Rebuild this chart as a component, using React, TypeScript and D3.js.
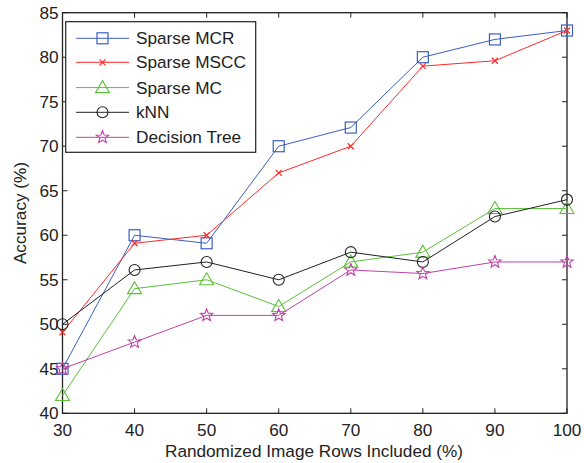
import * as d3 from "d3";
import React, {useEffect, useRef} from "react";

const xValues = [30, 40, 50, 60, 70, 80, 90, 100];
const sparseMCR = [45, 60, 59.1, 70, 72.1, 80, 82, 83];
const sparseMSCC = [49.1, 59.1, 60, 67, 70, 79, 79.6, 83];
const sparseMC = [42, 54, 55, 52, 57, 58.1, 63, 63];
const knn = [50, 56.1, 57, 55, 58.1, 57, 62.1, 64];
const decisionTree = [45, 48, 51, 51, 56.1, 55.7, 57, 57];
const xTicks = [30, 40, 50, 60, 70, 80, 90, 100];
const yTicks = [40, 45, 50, 55, 60, 65, 70, 75, 80, 85];

const seriesList = [
  {name: "Sparse MCR", values: sparseMCR, color: "#3a5fc0", marker: "square"},
  {name: "Sparse MSCC", values: sparseMSCC, color: "#ff2a2a", marker: "x"},
  {name: "Sparse MC", values: sparseMC, color: "#5cbf3a", marker: "triangle"},
  {name: "kNN", values: knn, color: "#222222", marker: "circle"},
  {name: "Decision Tree", values: decisionTree, color: "#c040a8", marker: "star"},
];

const font = "'Liberation Sans', Arial, sans-serif";
const fontSize = 17.2;

function drawMarker(g: any, type: string, cx: number, cy: number, color: string) {
  if (type === "square") {
    g.append("rect").attr("x", cx - 5.5).attr("y", cy - 5.5).attr("width", 11).attr("height", 11)
      .attr("fill", "none").attr("stroke", color).attr("stroke-width", 1.2);
  } else if (type === "x") {
    const s = 3;
    g.append("path").attr("d", `M${cx - s},${cy - s}L${cx + s},${cy + s}M${cx - s},${cy + s}L${cx + s},${cy - s}`)
      .attr("stroke", color).attr("stroke-width", 1.2);
  } else if (type === "triangle") {
    g.append("path").attr("d", `M${cx},${cy - 7}L${cx + 7},${cy + 5}L${cx - 7},${cy + 5}Z`)
      .attr("fill", "none").attr("stroke", color).attr("stroke-width", 1.1);
  } else if (type === "circle") {
    g.append("circle").attr("cx", cx).attr("cy", cy).attr("r", 5.5)
      .attr("fill", "none").attr("stroke", color).attr("stroke-width", 1.1);
  } else if (type === "star") {
    const pts: string[] = [];
    for (let i = 0; i < 10; i++) {
      const r = i % 2 === 0 ? 6.5 : 2.8;
      const a = -Math.PI / 2 + i * Math.PI / 5;
      pts.push(`${cx + r * Math.cos(a)},${cy + r * Math.sin(a)}`);
    }
    g.append("path").attr("d", `M${pts.join("L")}Z`)
      .attr("fill", "none").attr("stroke", color).attr("stroke-width", 1.1);
  }
}

const App: React.FC = () => {
  const svgRef = useRef<SVGSVGElement | null>(null);

  useEffect(() => {
    if (!svgRef.current) {
      return
    }
    const svg = d3.select(svgRef.current);
    svg.selectAll("*").remove();

    const left = 62.5, right = 567, top = 12.7, bottom = 413.3;
    const x = d3.scaleLinear().domain([30, 100]).range([left, right]);
    const y = d3.scaleLinear().domain([40, 85]).range([bottom, top]);

    svg.append("rect").attr("width", 584).attr("height", 463).attr("fill", "#fff");

    // axes: bottom and left with labels, top and right only ticks
    const tickLen = 5;
    const axisG = svg.append("g").attr("font-family", font).attr("font-size", fontSize).attr("fill", "#222");

    axisG.append("rect").attr("x", left).attr("y", top).attr("width", right - left).attr("height", bottom - top)
      .attr("fill", "none").attr("stroke", "#222").attr("stroke-width", 1.3);

    xTicks.forEach(t => {
      axisG.append("line").attr("x1", x(t)).attr("x2", x(t)).attr("y1", bottom).attr("y2", bottom - tickLen)
        .attr("stroke", "#222");
      axisG.append("line").attr("x1", x(t)).attr("x2", x(t)).attr("y1", top).attr("y2", top + tickLen)
        .attr("stroke", "#222");
      axisG.append("text").attr("x", x(t)).attr("y", 436).attr("text-anchor", "middle").text(t);
    });
    yTicks.forEach(t => {
      axisG.append("line").attr("x1", left).attr("x2", left + tickLen).attr("y1", y(t)).attr("y2", y(t))
        .attr("stroke", "#222");
      axisG.append("line").attr("x1", right).attr("x2", right - tickLen).attr("y1", y(t)).attr("y2", y(t))
        .attr("stroke", "#222");
      axisG.append("text").attr("x", left - 4).attr("y", y(t)).attr("dy", "0.36em").attr("text-anchor", "end").text(t);
    });

    axisG.append("text").attr("x", 314).attr("y", 456.5).attr("text-anchor", "middle")
      .text("Randomized Image Rows Included (%)");
    axisG.append("text").attr("transform", `translate(26,${(top + bottom) / 2}) rotate(-90)`)
      .attr("text-anchor", "middle").text("Accuracy (%)");

    const line = d3.line<number>().x((_, i) => x(xValues[i])).y(d => y(d));

    seriesList.forEach(s => {
      const g = svg.append("g");
      g.append("path").attr("d", line(s.values)).attr("fill", "none").attr("stroke", s.color).attr("stroke-width", 1);
      s.values.forEach((v, i) => drawMarker(g, s.marker, x(xValues[i]), y(v), s.color));
    });

    // legend
    const lg = svg.append("g").attr("font-family", font).attr("font-size", fontSize);
    lg.append("rect").attr("x", 65.7).attr("y", 21.7).attr("width", 190).attr("height", 130.6)
      .attr("fill", "#fff").attr("stroke", "#222").attr("stroke-width", 1.2);
    const rowY = [38.3, 62.3, 87.6, 112.3, 137.3];
    seriesList.forEach((s, i) => {
      const ly = rowY[i];
      lg.append("line").attr("x1", 76).attr("x2", 129).attr("y1", ly).attr("y2", ly)
        .attr("stroke", s.color).attr("stroke-width", 1);
      drawMarker(lg, s.marker, 102.5, ly, s.color);
      lg.append("text").attr("x", 136).attr("y", ly).attr("dy", "0.36em").attr("fill", "#222").text(s.name);
    });
  }, []);

  return (
    <svg
      ref={svgRef}
      width={584}
      height={463}
      style={{position: "absolute", left: 0, top: 0}}
    />
  );
}

export default App;
